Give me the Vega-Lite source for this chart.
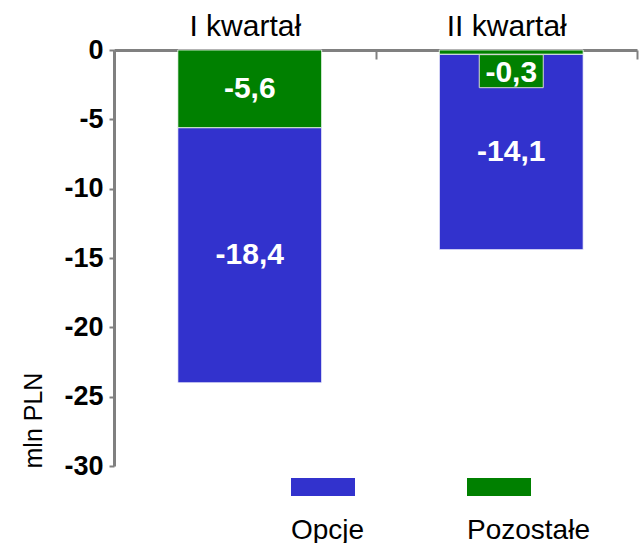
{
  "$schema": "https://vega.github.io/schema/vega-lite/v6.json",
  "width": 523,
  "height": 416,
  "autosize": "none",
  "padding": {"left": 114, "top": 50, "right": 2, "bottom": 77},
  "background": "white",
  "config": {
    "locale": {"number": {"decimal": ",", "thousands": " ", "grouping": [3], "currency": ["", " zł"], "minus": "-"}},
    "font": "Liberation Sans",
    "view": {"stroke": null}
  },
  "data": {
    "values": [
      {"quarter": "I kwartał", "series": "Opcje", "value": -18.4},
      {"quarter": "I kwartał", "series": "Pozostałe", "value": -5.6},
      {"quarter": "II kwartał", "series": "Opcje", "value": -14.1},
      {"quarter": "II kwartał", "series": "Pozostałe", "value": -0.3}
    ]
  },
  "transform": [
    {"stack": "value", "groupby": ["quarter"], "sort": [{"field": "series", "order": "descending"}], "as": ["v0", "v1"]},
    {"calculate": "(datum.v0 + datum.v1) / 2", "as": "mid"}
  ],
  "encoding": {
    "x": {
      "field": "quarter", "type": "nominal", "sort": ["I kwartał", "II kwartał"],
      "scale": {"paddingInner": 0, "paddingOuter": 0},
      "axis": {
        "orient": "top", "title": null, "labelAngle": 0, "labelFontSize": 30, "labelColor": "black",
        "labelPadding": 18, "tickBand": "extent", "tickSize": -9, "tickWidth": 2, "tickColor": "#808080",
        "domainColor": "#808080", "domainWidth": 3, "labelLimit": 300, "grid": false
      }
    }
  },
  "layer": [
    {
      "mark": {"type": "bar", "width": {"band": 0.55}, "xOffset": 5, "stroke": "white", "strokeWidth": 1, "strokeOpacity": 0.8},
      "encoding": {
        "y": {
          "field": "v1", "type": "quantitative", "title": "mln PLN",
          "scale": {"domain": [-30, 0], "nice": false, "zero": false},
          "axis": {
            "title": "mln PLN", "values": [0, -5, -10, -15, -20, -25, -30], "format": "d",
            "labelFontSize": 27, "labelFontWeight": "bold", "labelColor": "black", "labelPadding": 6,
            "tickSize": 5, "tickWidth": 2, "tickColor": "#808080", "domainColor": "#808080", "domainWidth": 3,
            "grid": false, "titleFontSize": 25, "titleFontWeight": "normal", "titleColor": "black",
            "titleAlign": "left", "titleBaseline": "alphabetic", "titleAngle": -90, "titleX": -73, "titleY": 418
          }
        },
        "y2": {"field": "v0"},
        "color": {
          "field": "series", "type": "nominal",
          "scale": {"domain": ["Opcje", "Pozostałe"], "range": ["#3232CD", "#008000"]},
          "legend": {
            "title": null, "orient": "none", "legendX": 177, "legendY": 405, "direction": "horizontal",
            "symbolType": "M-1,-0.28H1V0.28H-1Z", "symbolSize": 4096, "symbolStrokeWidth": 0, "symbolOpacity": 1,
            "labelFontSize": 28, "labelColor": "black", "labelOffset": -64, "columnPadding": 102,
            "padding": 0, "labelLimit": 300, "labelBaseline": "top",
            "labelExpr": "['', datum.label]"
          }
        }
      }
    },
    {
      "transform": [{"filter": "abs(datum.value) >= 1"}],
      "mark": {"type": "text", "fontSize": 30, "fontWeight": "bold", "color": "white", "baseline": "middle", "xOffset": 5},
      "encoding": {
        "y": {"field": "mid", "type": "quantitative", "title": "mln PLN"},
        "text": {"field": "value", "type": "quantitative", "format": ".1f"}
      }
    },
    {
      "transform": [{"filter": "abs(datum.value) < 1"}],
      "mark": {"type": "point", "shape": "M-1,-0.516H1V0.516H-1Z", "size": 4096, "filled": true, "fill": "#008000", "stroke": "#d8d8d8", "strokeWidth": 1, "opacity": 1, "yOffset": 17, "xOffset": 5},
      "encoding": {
        "y": {"field": "v1", "type": "quantitative", "title": "mln PLN"}
      }
    },
    {
      "transform": [{"filter": "abs(datum.value) < 1"}],
      "mark": {"type": "text", "fontSize": 30, "fontWeight": "bold", "color": "white", "baseline": "middle", "yOffset": 18.5, "xOffset": 5},
      "encoding": {
        "y": {"field": "v1", "type": "quantitative", "title": "mln PLN"},
        "text": {"field": "value", "type": "quantitative", "format": ".1f"}
      }
    }
  ]
}
